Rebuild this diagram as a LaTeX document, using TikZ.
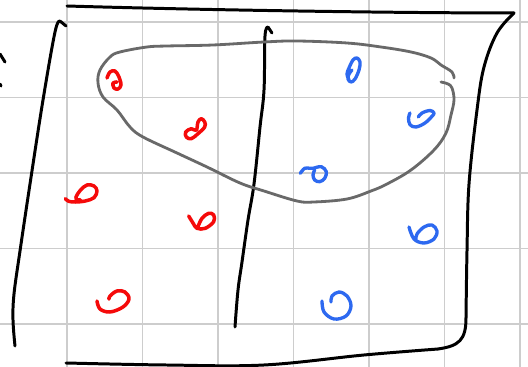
\documentclass[tikz,border=0pt]{standalone}
\usepackage{tikz}
\usepackage{xcolor}
\definecolor{penred}{RGB}{245,10,10}
\definecolor{penblue}{RGB}{45,105,240}
\definecolor{pengray}{RGB}{105,105,105}
\definecolor{papergrid}{RGB}{205,205,205}

\begin{document}
\begin{tikzpicture}[x=0.02cm,y=-0.02cm,
  gridline/.style={papergrid,line width=1.1pt},
  ink/.style={black,line width=1.7pt,line cap=round,line join=round},
  lasso/.style={pengray,line width=1.6pt,line cap=round,line join=round},
  redmark/.style={penred,line width=2pt,line cap=round,line join=round},
  bluemark/.style={penblue,line width=1.9pt,line cap=round,line join=round}]
\fill[white] (0,0) rectangle (528,367);
\useasboundingbox (0,0) rectangle (528,367);
\foreach \x in {67,142.5,218,293.5,369,444.5,520}
  \draw[gridline] (\x,0) -- (\x,367);
\foreach \y in {22,97.5,173,248.5,324}
  \draw[gridline] (0,\y) -- (528,\y);
% outer frame and dividers
\draw[ink] (67,6) .. controls (200,10) and (400,13) .. (514,13);
\draw[ink] plot[smooth,tension=0.6] coordinates {(514,13) (497,33) (484,67) (477,110) (469,184) (467,251) (466,318)};
\draw[ink] (466,318) .. controls (466,340) and (459,346) .. (438,349);
\draw[ink] plot[smooth,tension=0.6] coordinates {(438,349) (364,355) (264,365) (166,365) (66,363)};
\draw[ink] (66,26) -- (60,21) plot[smooth,tension=0.6] coordinates {(60,21) (55,32) (43,100) (30,184) (20,251) (14,294) (13,320) (15,346)};
\draw[ink] (272,33) -- (268,27) plot[smooth,tension=0.6] coordinates {(268,27) (265,36) (264,90) (260,127) (254,184) (248,220) (242,262) (238,290) (235,327)};
\draw[ink] (0,54) -- (5,62);
\draw[ink] (0,84) -- (1,86);
% event
\draw[lasso] plot[smooth,tension=0.6] coordinates {(441,82) (448,84) (452,88) (454,100) (451,115) (446,133) (434,150) (411,170) (387,184) (371,191) (347,199) (314,202) (297,201) (264,191) (240,183) (207,167) (177,153) (143,137) (130,127) (117,110) (103,97) (98,83) (100,70) (110,57) (120,52) (147,47) (167,46) (213,45) (264,42) (297,41) (347,43) (381,47) (411,52) (431,58) (441,65) (452,72) (454,78)};
% outcomes
\draw[redmark] plot[smooth,tension=0.6] coordinates {(107,78) (110,72) (115,71) (119,77) (121,85) (118,89) (114,88) (113,83) (117,82)};
\draw[redmark] plot[smooth cycle,tension=0.6] coordinates {(204.7,122) (201.3,118.7) (198,122) (196.3,130.3) (191.3,128.7) (185.7,132) (186.3,137) (191.3,138.7) (198,133.7) (204.7,127)};
\draw[redmark] plot[smooth,tension=0.6] coordinates {(65.3,198.7) (68.7,201.3) (75.3,202) (85.3,201) (94,197.7) (97,191) (94,186) (87,185) (80.3,190.3) (76,197) (77,199.7) (80.3,199.7)};
\draw[redmark] plot[smooth,tension=0.6] coordinates {(188.7,216) (193,223) (197,228.3) (205.3,228.3) (213.7,221.7) (213.7,215) (208.7,213.3) (202,218.3) (198,226.7)};
\draw[redmark] plot[smooth,tension=0.6] coordinates {(97,301) (100,309) (110,312) (123,307) (129,299) (125,292) (117,291) (110,296) (109,299)};
\draw[bluemark] plot[smooth,tension=0.6] coordinates {(352,70) (349,74) (348,79) (351,82) (355,79) (359,70) (360,62) (357,58) (353,60) (349,68) (347,74) (349,80)};
\draw[bluemark] plot[smooth,tension=0.6] coordinates {(410,113) (408.5,118) (410,124.7) (416,127) (425,123) (432,116.3) (434,113) (430,110.5) (422,113) (418.3,117)};
\draw[bluemark] plot[smooth,tension=0.6] coordinates {(300.3,173.3) (304.7,168.3) (309.7,168.3) (313,168.3) (321.3,166.7) (326.3,171.7) (324.7,178.3) (319.7,181.7) (314.7,180) (313,175) (314.7,170)};
\draw[bluemark] plot[smooth,tension=0.6] coordinates {(409,227) (414,239) (424,243) (434,239) (437,231) (432,225) (424,227) (417,234) (416,239)};
\draw[bluemark] plot[smooth,tension=0.6] coordinates {(322,301) (324,312) (334,319) (346,316) (351,306) (347,296) (339,292) (332,296) (331,302)};
\end{tikzpicture}
\end{document}
